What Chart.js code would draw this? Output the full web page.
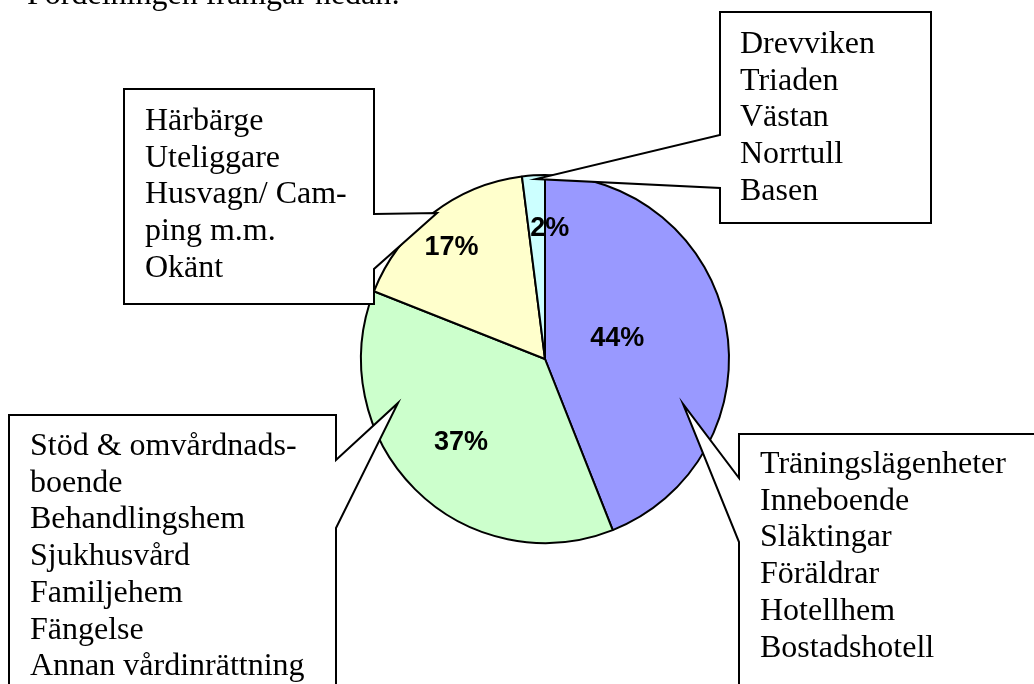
<!DOCTYPE html>
<html lang="sv">
<head>
<meta charset="utf-8">
<title>Fördelning boende</title>
<script src="https://cdn.jsdelivr.net/npm/chart.js@4/dist/chart.umd.min.js"></script>
<style>
  html, body { margin: 0; padding: 0; background: #fff; }
  #page { position: relative; width: 1034px; height: 684px; overflow: hidden; }
  #c { position: absolute; left: 0; top: 0; }
  .txt {
    position: absolute;
    font-family: "Liberation Serif", "Times New Roman", serif;
    font-size: 32px;
    line-height: 36.7px;
    white-space: pre;
    color: #000;
  }
</style>
</head>
<body>
<div id="page">
  <canvas id="c" width="1034" height="684"></canvas>
  <div class="txt" id="heading" style="left:27px; top:-25px;"></div>
  <div class="txt" id="note0" style="left:760px; top:444px;"></div>
  <div class="txt" id="note1" style="left:30px; top:426px;"></div>
  <div class="txt" id="note2" style="left:145px; top:101px;"></div>
  <div class="txt" id="note3" style="left:740px; top:24px;"></div>
</div>
<script>
// data
const heading = "Fördelningen framgår nedan:";
const categories = [
  "Träningslägenheter m.m.",
  "Stöd & omvårdnadsboende m.m.",
  "Härbärge m.m.",
  "Drevviken m.m.",
];
const shares = [44, 37, 17, 2];
const sliceColors = ["#9999FF", "#CCFFCC", "#FFFFCC", "#CCFFFF"];

// text of the callout boxes, one list per slice
const noteLines = [
  ["Träningslägenheter", "Inneboende", "Släktingar", "Föräldrar", "Hotellhem", "Bostadshotell"],
  ["Stöd & omvårdnads-", "boende", "Behandlingshem", "Sjukhusvård", "Familjehem", "Fängelse", "Annan vårdinrättning"],
  ["Härbärge", "Uteliggare", "Husvagn/ Cam-", "ping m.m.", "Okänt"],
  ["Drevviken", "Triaden", "Västan", "Norrtull", "Basen"],
];

// callout outlines (box + pointer), page pixels
const noteShapes = [
  [[739, 434], [1040, 434], [1040, 700], [739, 700], [739, 542], [683, 404], [739, 478]],
  [[9, 415], [336, 415], [336, 460], [398, 403], [336, 528], [336, 700], [9, 700]],
  [[124, 89], [374, 89], [374, 214], [437, 213], [374, 269], [374, 304], [124, 304]],
  [[720, 12], [931, 12], [931, 223], [720, 223], [720, 188], [536, 179], [720, 135]],
];

// where the % labels sit: fraction of radius + small nudge
const labelPlace = [
  { r: 0.40, dx: 0, dy: -7 },
  { r: 0.645, dx: 0, dy: 0 },
  { r: 0.785, dx: -5, dy: 3 },
  { r: 0.71, dx: 13, dy: 0 },
];

document.getElementById("heading").textContent = heading;
noteLines.forEach((lines, i) => {
  document.getElementById("note" + i).textContent = lines.join("\n");
});

const percentLabels = {
  id: "percentLabels",
  afterDatasetsDraw(chart) {
    const ctx = chart.ctx;
    const meta = chart.getDatasetMeta(0);
    const total = shares.reduce((a, b) => a + b, 0);
    ctx.save();
    ctx.font = "bold 27px 'Liberation Sans', Arial, sans-serif";
    ctx.fillStyle = "#000";
    ctx.textAlign = "center";
    ctx.textBaseline = "middle";
    meta.data.forEach((arc, i) => {
      const p = arc.getProps(["x", "y", "startAngle", "endAngle", "outerRadius"], true);
      const mid = (p.startAngle + p.endAngle) / 2;
      const pl = labelPlace[i];
      const x = p.x + Math.cos(mid) * p.outerRadius * pl.r + pl.dx;
      const y = p.y + Math.sin(mid) * p.outerRadius * pl.r + pl.dy;
      ctx.fillText(Math.round((shares[i] / total) * 100) + "%", x, y);
    });
    ctx.restore();
  },
};

const callouts = {
  id: "callouts",
  afterDraw(chart) {
    const ctx = chart.ctx;
    ctx.save();
    ctx.lineWidth = 2;
    ctx.strokeStyle = "#000";
    ctx.fillStyle = "#fff";
    ctx.lineJoin = "miter";
    noteShapes.forEach((pts) => {
      ctx.beginPath();
      ctx.moveTo(pts[0][0], pts[0][1]);
      for (let k = 1; k < pts.length; k++) ctx.lineTo(pts[k][0], pts[k][1]);
      ctx.closePath();
      ctx.fill();
      ctx.stroke();
    });
    ctx.restore();
  },
};

new Chart(document.getElementById("c"), {
  type: "pie",
  data: {
    labels: categories,
    datasets: [
      {
        data: shares,
        backgroundColor: sliceColors,
        borderColor: "#000",
        borderWidth: 2,
        hoverBorderWidth: 2,
        hoverOffset: 0,
      },
    ],
  },
  options: {
    responsive: false,
    animation: false,
    events: [],
    layout: { padding: { left: 360, right: 304, top: 174, bottom: 140 } },
    plugins: {
      legend: { display: false },
      tooltip: { enabled: false },
      title: { display: false },
    },
  },
  plugins: [percentLabels, callouts],
});
</script>
</body>
</html>
